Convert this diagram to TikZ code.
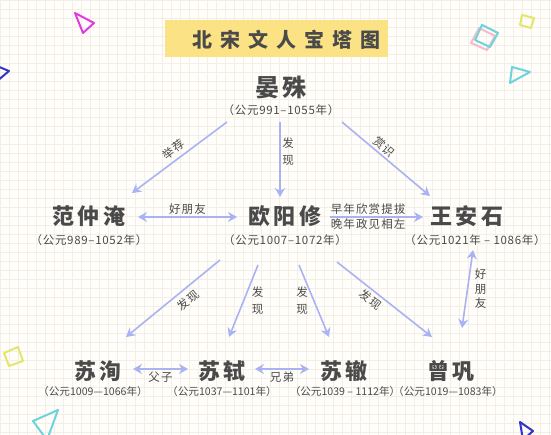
\documentclass[tikz,border=0pt]{standalone}
\usepackage{fontspec}
\setmainfont{Noto Sans CJK SC}
\newfontfamily\namefont[LetterSpace=16]{Noto Sans CJK SC}
\newfontfamily\titlefont[LetterSpace=40]{Noto Sans CJK SC}
\newfontfamily\labelfont[LetterSpace=10]{Noto Sans CJK SC}
\newfontfamily\yearfont[LetterSpace=6]{Noto Sans CJK SC}
\usetikzlibrary{arrows.meta}
\definecolor{paper}{HTML}{FFFEFA}
\definecolor{gridc}{HTML}{F3EFE7}
\definecolor{banner}{HTML}{FBE285}
\definecolor{ink}{HTML}{4A4A4A}
\definecolor{linkc}{HTML}{A9B3F3}
\definecolor{decocyan}{HTML}{6FD3DA}
\definecolor{decopink}{HTML}{F5BCCB}
\definecolor{decoyellow}{HTML}{E4E66C}
\definecolor{decomagenta}{HTML}{E03CE0}
\definecolor{decoblue}{HTML}{3434CC}
\begin{document}
\begin{tikzpicture}[x=1pt,y=-1pt,node distance=24pt,>={Stealth[length=9pt,width=10pt,inset=3pt]}]
	\tikzstyle{person} = [text=ink,font=\namefont\bfseries\fontsize{22}{24}\selectfont,inner sep=0pt]
	\tikzstyle{years} = [text=ink,font=\yearfont\fontsize{11.5}{12}\selectfont,inner sep=0pt]
	\tikzstyle{lowyears} = [text=ink,font=\fontsize{10.6}{12}\selectfont,inner sep=0pt]
	\tikzstyle{conn} = [draw=linkc,line width=1.6pt]
	\tikzstyle{tag} = [text=ink,font=\labelfont\fontsize{11.5}{17}\selectfont,inner sep=1pt,align=center]
	\tikzstyle{deco} = [line width=2pt,line join=round]
	\useasboundingbox (0,0) rectangle (551,435);
	\fill[paper] (0,0) rectangle (551,435);
	\draw[gridc,step=9pt,line width=0.4pt] (0,435) grid (551,0);

	\draw[deco,decomagenta] (75,13) -- (94,23) -- (83,33) -- cycle;
	\draw[deco,decoblue] (-8,64) -- (9,71) -- (-4,82) -- cycle;
	\draw[deco,decopink] (479,28) -- (495,36) -- (487,50) -- (471,43) -- cycle;
	\draw[deco,decocyan] (482,25) -- (498,33) -- (490,47) -- (475,40) -- cycle;
	\draw[deco,decoyellow] (522,15) -- (534,18) -- (531,28) -- (520,25) -- cycle;
	\draw[deco,decocyan] (512,67) -- (530,72) -- (510,83) -- cycle;
	\draw[deco,decoyellow] (4,353) -- (18,347) -- (23,361) -- (9,366) -- cycle;
	\draw[deco,decocyan] (33,421) -- (58,410) -- (47,440) -- cycle;
	\draw[deco,decoblue] (520,422) -- (533,431) -- (523,440) -- cycle;

	\node (banner) [fill=banner,minimum width=223pt,minimum height=37pt] at (276.5,38.5) {};
	\node (title) [text=ink,font=\titlefont\bfseries\fontsize{20}{22}\selectfont] at (286,40) {北宋文人宝塔图};

	\node (yanshu) [person,font=\namefont\bfseries\fontsize{24}{26}\selectfont] at (281,87) {晏殊};
	\node (yanshu-yr) [years,below of=yanshu,node distance=23pt] {（公元991–1055年）};
	\node (fan) [person] at (89,216) {范仲淹};
	\node (fan-yr) [years,below of=fan] {（公元989–1052年）};
	\node (ouyang) [person] at (285,216) {欧阳修};
	\node (ouyang-yr) [years,below of=ouyang] {（公元1007–1072年）};
	\node (wang) [person] at (467,216) {王安石};
	\node (wang-yr) [years,below of=wang,xshift=8pt] {（公元1021年 – 1086年）};
	\node (suxun) [person] at (98,371) {苏洵};
	\node (suxun-yr) [lowyears,below of=suxun,node distance=20pt,xshift=-5pt] {（公元1009—1066年）};
	\node (sushi) [person] at (222,371) {苏轼};
	\node (sushi-yr) [lowyears,below of=sushi,node distance=20pt] {（公元1037—1101年）};
	\node (suzhe) [person] at (344,371) {苏辙};
	\node (suzhe-yr) [lowyears,below of=suzhe,node distance=20pt,xshift=1pt] {（公元1039 – 1112年）};
	\node (zeng) [person] at (451,371) {曾巩};
	\node (zeng-yr) [lowyears,below of=zeng,node distance=20pt,xshift=-3pt] {（公元1019—1083年）};

	\draw[conn,->] ([shift={(-54,12)}]yanshu-yr.center) -- node[tag,sloped,above=3pt] {举荐} ([shift={(43,-23)}]fan.center);
	\draw[conn,->] ([shift={(-1,12)}]yanshu-yr.center) -- node[tag,pos=0.4,xshift=8pt] {发\\现} ([shift={(-5,-19)}]ouyang.center);
	\draw[conn,->] ([shift={(61,12)}]yanshu-yr.center) -- node[tag,sloped,pos=0.42,above=1pt] {赏识} ([shift={(-37,-20)}]wang.center);
	\draw[conn,<->] ([shift={(49,1)}]fan.center) -- node[tag,above=1pt] {好朋友} ([shift={(-48,1)}]ouyang.center);
	\draw[conn,->] ([shift={(45,1)}]ouyang.center) -- node[tag,pos=0.41,above=1pt] {早年欣赏提拔} node[tag,pos=0.41,below=0pt] {晚年政见相左} ([shift={(-44,1)}]wang.center);
	\draw[conn,<->] ([shift={(-2,10)}]wang-yr.center) -- node[tag,xshift=13pt,font=\labelfont\fontsize{11.5}{14.5}\selectfont] {好\\朋\\友} ([shift={(11,-43)}]zeng.center);
	\draw[conn,->] ([shift={(-65,20)}]ouyang-yr.center) -- node[tag,sloped,pos=0.41,below=4pt] {发现} ([shift={(28,-34)}]suxun.center);
	\draw[conn,->] ([shift={(-27,25)}]ouyang-yr.center) -- node[tag,xshift=14pt] {发\\现} ([shift={(7,-34)}]sushi.center);
	\draw[conn,->] ([shift={(14,25)}]ouyang-yr.center) -- node[tag,xshift=-12pt] {发\\现} ([shift={(-15,-34)}]suzhe.center);
	\draw[conn,->] ([shift={(52,22)}]ouyang-yr.center) -- node[tag,sloped,pos=0.41,below=2pt] {发现} ([shift={(-19,-34)}]zeng.center);
	\draw[conn,<->] ([shift={(35,-2)}]suxun.center) -- node[tag,below=1pt] {父子} ([shift={(-34,-2)}]sushi.center);
	\draw[conn,<->] ([shift={(33,-2)}]sushi.center) -- node[tag,below=1pt] {兄弟} ([shift={(-35,-2)}]suzhe.center);
\end{tikzpicture}
\end{document}
